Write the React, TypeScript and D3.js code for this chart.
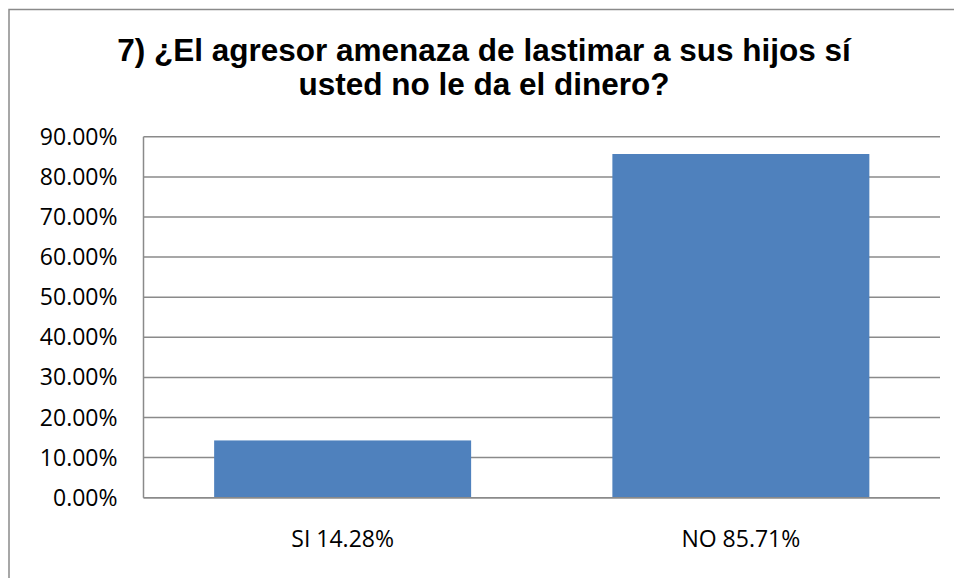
import React from "react";
import * as d3 from "d3";

const categories = ["SI 14.28%", "NO 85.71%"];
const values = [14.28, 85.71];
const yTicks = [0, 10, 20, 30, 40, 50, 60, 70, 80, 90];
const titleLines = ["7) ¿El agresor amenaza de lastimar a sus hijos sí", "usted no le da el dinero?"];

export default function App() {
  const W = 954, H = 578;
  const plot = { left: 143.5, right: 940, top: 136.8, bottom: 497.7 };
  const x = d3.scaleBand<string>().domain(categories).range([plot.left, plot.right]).paddingInner(0.3547).paddingOuter(0.1774);
  const y = d3.scaleLinear().domain([0, 90]).range([plot.bottom, plot.top]);
  const tickFont = "'Open Sans', sans-serif";
  const gridColor = "#8a8a8a";
  return (
    <svg width={W} height={H} style={{ position: "absolute", left: 0, top: 0, background: "#fff" }}>
      <rect x={0} y={0} width={W} height={H} fill="#fff" />
      <rect x={9} y={9.5} width={980} height={620} fill="none" stroke={gridColor} strokeWidth={1.5} />
      {titleLines.map((t, i) => (
        <text key={i} x={484} y={61 + i * 34} textAnchor="middle" fontFamily="'Liberation Sans', Arial, sans-serif" fontWeight="bold" fontSize={31.5} fill="#000">{t}</text>
      ))}
      {yTicks.map((v) => (
        <g key={v}>
          <line x1={plot.left} x2={plot.right} y1={y(v)} y2={y(v)} stroke={gridColor} strokeWidth={1.5} />
          <text x={117.5} y={y(v) + 8} textAnchor="end" fontFamily={tickFont} fontSize={23} fill="#000">{v.toFixed(2) + "%"}</text>
        </g>
      ))}
      <line x1={plot.left} x2={plot.left} y1={plot.top} y2={plot.bottom} stroke={gridColor} strokeWidth={1.5} />
      {categories.map((c, i) => (
        <rect key={c} x={x(c)} y={y(values[i])} width={x.bandwidth()} height={plot.bottom - y(values[i])} fill="#4f81bd" />
      ))}
      <line x1={plot.left} x2={plot.right} y1={plot.bottom} y2={plot.bottom} stroke={gridColor} strokeWidth={1.5} />
      {categories.map((c) => (
        <text key={c} x={(x(c) as number) + x.bandwidth() / 2} y={547} textAnchor="middle" fontFamily={tickFont} fontSize={23} fill="#000">{c}</text>
      ))}
    </svg>
  );
}
